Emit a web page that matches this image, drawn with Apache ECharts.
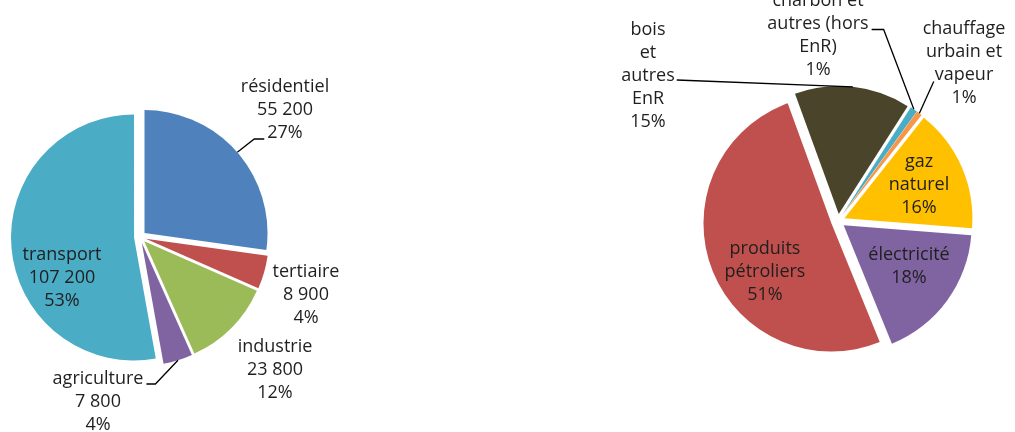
<!DOCTYPE html>
<html>
<head>
<meta charset="utf-8">
<script src="https://cdn.jsdelivr.net/npm/echarts@6/dist/echarts.min.js"></script>
<style>
html,body{margin:0;padding:0;background:#fff;}
#c{width:1015px;height:432px;}
</style>
</head>
<body>
<div id="c"></div>
<script>
// ---- data ----
const sectorNames = ['résidentiel', 'tertiaire', 'industrie', 'agriculture', 'transport'];
const sectorValues = [55200, 8900, 23800, 7800, 107200];
const energyNames = ['bois\net\nautres\nEnR', 'charbon et\nautres (hors\nEnR)', 'chauffage\nurbain et\nvapeur', 'gaz\nnaturel', 'électricité', 'produits\npétroliers'];
const energyValues = [14.6, 0.9, 0.7, 15.6, 17.6, 50.6];

// ---- styles / layout ----
const sectorColors = ['#4F81BD', '#C0504D', '#9BBB59', '#8064A2', '#4BACC6'];
const energyColors = ['#4A452A', '#4BACC6', '#F79646', '#FFC000', '#8064A2', '#C0504D'];
const sectorInside = [false, false, false, false, true];
const energyInside = [false, false, false, true, true, true];
const sectorLabelPos = [[285, 110], [306, 295], [275, 370], [98, 402], [62, 278]];
const energyLabelPos = [[648, 76], [818, 35], [964, 63], [919, 185], [909, 266], [765, 272]];
// leader line: which text line it attaches to, which side, horizontal segment, vertical shift, gap
const sectorLeaders = [
  { line: 2, side: 'left', seg: 10, dy: 6, gap: 3 },
  null, null,
  { line: 0, side: 'right', seg: 9, dy: 5, gap: 3 },
  null
];
const energyLeaders = [
  { line: 2, side: 'right', seg: 0, dy: 4, gap: 2 },
  { line: 1, side: 'right', seg: 12, dy: 6, gap: 3 },
  { line: 2, side: 'left', seg: 0, dy: 7, gap: 1 },
  null, null, null
];

const FONT_SIZE = 18, LINE_H = 23, FONT = 'Open Sans';
const measureCtx = document.createElement('canvas').getContext('2d');
measureCtx.font = FONT_SIZE + 'px "' + FONT + '"';

function fmt(v) {
  return String(v).replace(/\B(?=(\d{3})+(?!\d))/g, ' ');
}

const txt = { color: '#1f1f1f', fontFamily: FONT, fontSize: FONT_SIZE, lineHeight: LINE_H };
const lineStyle = { color: '#000', width: 1.3 };

function pieSeries(names, values, colors, center, r, offset, startAngle) {
  return {
    type: 'pie',
    center: center,
    radius: [0, r],
    startAngle: startAngle,
    clockwise: true,
    selectedMode: 'multiple',
    selectedOffset: offset,
    silent: true,
    emphasis: { disabled: true },
    label: { show: false },
    labelLine: { show: false },
    z: 2,
    data: names.map((n, i) => ({
      name: n, value: values[i], selected: true,
      itemStyle: { color: colors[i] }
    }))
  };
}

function labelSeries(names, values, inside, center, r, startAngle, pos, leaders, formatter) {
  return {
    type: 'pie',
    center: center,
    radius: [0, r],
    startAngle: startAngle,
    clockwise: true,
    silent: true,
    emphasis: { disabled: true },
    avoidLabelOverlap: false,
    z: 3,
    itemStyle: { color: 'rgba(0,0,0,0)' },
    label: Object.assign({ formatter: formatter }, txt),
    labelLine: { show: true, length: 10, length2: 10, smooth: false, lineStyle: lineStyle },
    labelLayout: function (p) {
      const q = pos[p.dataIndex];
      const res = { x: q[0], y: q[1], align: 'center', verticalAlign: 'middle' };
      const L = leaders[p.dataIndex];
      if (L && p.labelLinePoints && p.labelLinePoints[0]) {
        const lines = String(p.text).split('\n');
        const w = measureCtx.measureText(lines[L.line]).width;
        const ly = q[1] + (L.line - (lines.length - 1) / 2) * LINE_H + L.dy;
        const sgn = L.side === 'left' ? -1 : 1;
        const ex = q[0] + sgn * (w / 2 + L.gap);
        const p0 = p.labelLinePoints[0];
        res.labelLinePoints = [[p0[0], p0[1]], [ex + sgn * L.seg, ly], [ex, ly]];
      }
      return res;
    },
    data: names.map((n, i) => ({
      name: n, value: values[i],
      label: { position: inside[i] ? 'inside' : 'outside' },
      labelLine: { show: !!leaders[i] }
    }))
  };
}

const chart = echarts.init(document.getElementById('c'), null, { renderer: 'canvas' });
chart.setOption({
  animation: false,
  backgroundColor: '#fff',
  series: [
    pieSeries(sectorNames, sectorValues, sectorColors, [140, 237], 123, 6, 90),
    labelSeries(sectorNames, sectorValues, sectorInside, [140, 237], 129, 90, sectorLabelPos, sectorLeaders,
      p => p.name + '\n' + fmt(p.value) + '\n' + Math.round(p.percent) + '%'),
    pieSeries(energyNames, energyValues, energyColors, [838, 221], 128, 7, 110),
    labelSeries(energyNames, energyValues, energyInside, [838, 221], 135, 110, energyLabelPos, energyLeaders,
      p => p.name + '\n' + Math.round(p.percent) + '%')
  ]
});
</script>
</body>
</html>
